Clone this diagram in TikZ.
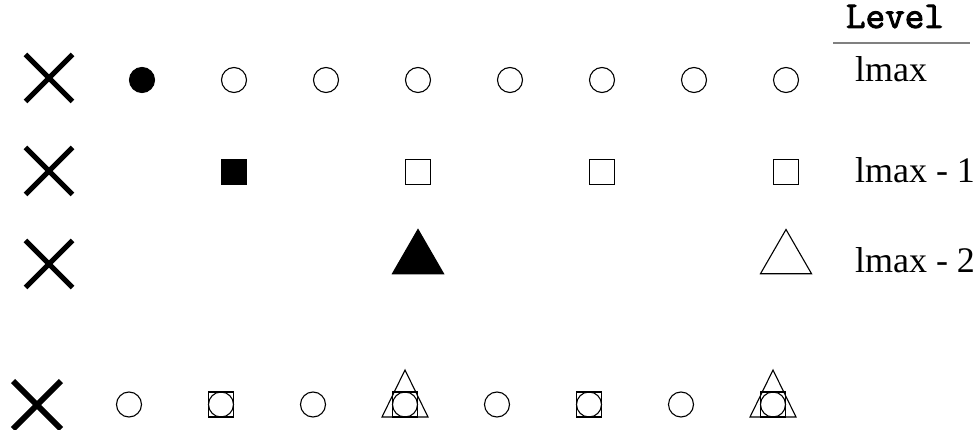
\documentclass[tikz,border=0pt]{standalone}
\usepackage{fontspec}
\setmainfont{Liberation Serif}
\newfontfamily\lvlfont{Latin Modern Mono}[FakeBold=2.5]
\usetikzlibrary{positioning,shapes.geometric,shapes.misc}

\begin{document}
\begin{tikzpicture}[x=1pt, y=-1pt, node distance=92pt, on grid,
  every node/.style={inner sep=0pt, outer sep=0pt},
  cross/.style={draw, cross out, line width=5pt, minimum size=47pt},
  ring/.style={draw, circle, line width=1.1pt, minimum size=25pt},
  dot/.style={ring, fill=black},
  box/.style={draw, rectangle, line width=1.1pt, minimum size=25pt},
  tri/.style={draw, regular polygon, regular polygon sides=3, line width=1.1pt, minimum size=59pt},
  lvl/.style={font=\fontsize{36}{40}\selectfont, anchor=base west}]
\useasboundingbox (0,0) rectangle (977,430);
% level lmax
\node[cross] (x1) at (49,78) {};
\node[dot] (c1) at (142,80) {};
\node[ring,right=of c1] (c2) {};
\node[ring,right=of c2] (c3) {};
\node[ring,right=of c3] (c4) {};
\node[ring,right=of c4] (c5) {};
\node[ring,right=of c5] (c6) {};
\node[ring,right=of c6] (c7) {};
\node[ring,right=of c7] (c8) {};
% level lmax - 1
\node[cross] (x2) at (49,171) {};
\node[box,fill=black,below=of c2] (s1) {};
\node[box,below=of c4] (s2) {};
\node[box,below=of c6] (s3) {};
\node[box,below=of c8] (s4) {};
% level lmax - 2
\node[cross] (x3) at (49,264) {};
\node[tri,fill=black,below=87pt of s2] (t1) {};
\node[tri,below=87pt of s4] (t2) {};
% labels
\node[font=\fontsize{38}{40}\selectfont\lvlfont, anchor=base west] (lvl) at (846,28) {Level};
\coordinate (r1) at (833,43); \coordinate (r2) at (970,43);
\draw[gray, line width=2pt] (r1) -- (r2);
\node[lvl] (l1) at (855,82) {lmax};
\node[lvl] (l2) at (855,183) {lmax - 1};
\node[lvl] (l3) at (855,273) {lmax - 2};
% merged result
\node[cross, line width=6pt, minimum size=48pt] (xb) at (37,405) {};
\node[ring] (m1) at (129,404.5) {};
\node[ring,right=of m1] (m2) {};
\node[ring,right=of m2] (m3) {};
\node[ring,right=of m3] (m4) {};
\node[ring,right=of m4] (m5) {};
\node[ring,right=of m5] (m6) {};
\node[ring,right=of m6] (m7) {};
\node[ring,right=of m7] (m8) {};
\node[box] (q2) at (m2) {};
\node[box] (q4) at (m4) {};
\node[box] (q6) at (m6) {};
\node[box] (q8) at (m8) {};
\draw[line width=1.1pt, line join=miter] ([xshift=-10.5pt]q4.south west) -- ([yshift=22pt]q4.north) -- ([xshift=10.5pt]q4.south east) -- cycle;
\draw[line width=1.1pt, line join=miter] ([xshift=-10.5pt]q8.south west) -- ([yshift=22pt]q8.north) -- ([xshift=10.5pt]q8.south east) -- cycle;
\end{tikzpicture}
\end{document}
